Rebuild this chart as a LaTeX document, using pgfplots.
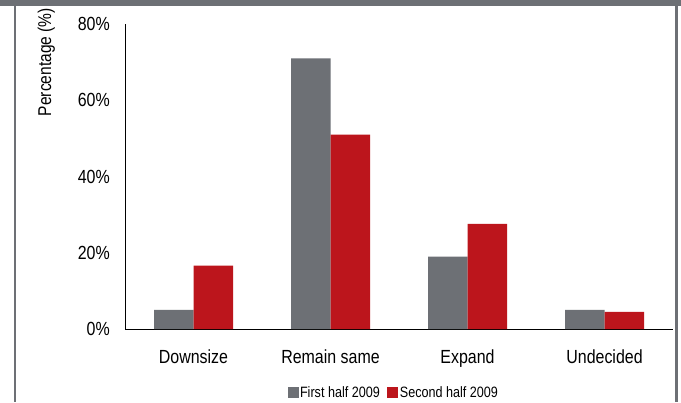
\documentclass[border=0pt]{standalone}
\usepackage{pgfplots}
\pgfplotsset{compat=1.18}
\usepackage{fontspec}
\setmainfont{Liberation Sans}[FakeStretch=0.84]

\definecolor{barGray}{HTML}{6D7075}
\definecolor{barRed}{HTML}{BC151C}

\begin{document}
\begin{tikzpicture}[x=1bp,y=1bp]
\useasboundingbox (0,0) rectangle (681,402);
\fill[white] (0,0) rectangle (681,402);
% frame
\fill[barGray] (0,396) rectangle (681,402);
\fill[barGray] (14,0) rectangle (16,396);
\fill[barGray] (675,0) rectangle (678,396);

\begin{axis}[
  at={(125bp,73bp)}, anchor=south west,
  scale only axis, width=548bp, height=305bp,
  ybar=0pt, bar width=39.5bp,
  xmin=-0.5, xmax=3.5, ymin=0, ymax=80,
  axis lines*=left,
  axis line style={black, line width=1pt},
  xtick=data,
  xticklabels={Downsize, Remain same, Expand, Undecided},
  ytick={0,20,40,60,80},
  yticklabel={\pgfmathprintnumber{\tick}\%},
  /pgf/number format/assume math mode=true,
  major tick length=0pt,
  tick label style={font=\fontsize{19bp}{21bp}\selectfont, inner sep=0pt},
  yticklabel style={anchor=east, xshift=-15bp},
  xticklabel style={anchor=north, yshift=-21bp},
  legend columns=2,
  legend style={at={(rel axis cs:0.5,0)}, anchor=center, xshift=-5.5bp, yshift=-64bp,
    draw=none, fill=none, inner sep=0pt,
    font=\fontsize{15bp}{17bp}\selectfont,
    nodes={inner sep=1.5bp},
    /tikz/every even column/.append style={column sep=6bp}},
  legend image code/.code={\fill[#1] (0bp,-5bp) rectangle (11bp,6bp);},
  clip=false,
]
\addplot[fill=barGray, draw=none] coordinates {(0,5) (1,71) (2,19) (3,5)};
\addplot[fill=barRed, draw=none] coordinates {(0,16.6) (1,51) (2,27.6) (3,4.5)};
\legend{First half 2009, Second half 2009}
\end{axis}

\node[rotate=90, anchor=base east, inner sep=0pt, font=\fontsize{18.5bp}{20bp}\selectfont]
  at (51,394) {Percentage (\%)};
\end{tikzpicture}
\end{document}
